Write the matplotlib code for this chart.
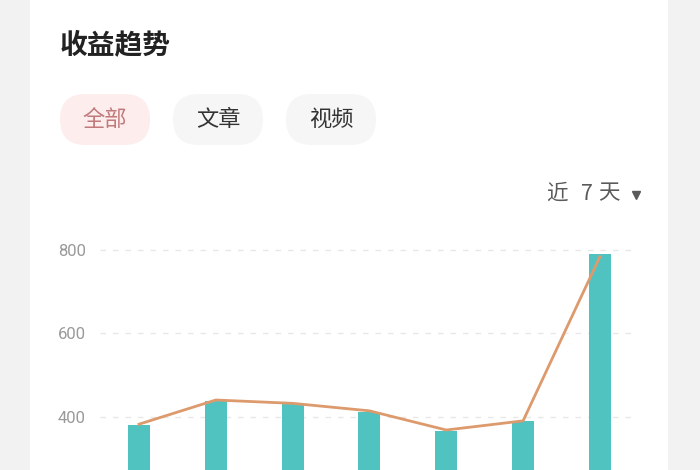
import matplotlib
matplotlib.use("Agg")
import matplotlib.pyplot as plt
from matplotlib.patches import Rectangle, FancyBboxPatch

# ---- data ----
days = [1, 2, 3, 4, 5, 6, 7]
bar_values = [380, 438, 430, 412, 366, 390, 790]
line_values = [382, 440, 432, 414, 368, 390, 784]
y_ticks = [400, 600, 800]
title = "收益趋势"
tabs = ["全部", "文章", "视频"]
period_parts = ["近", "7", "天"]

CJK = ['Noto Sans CJK SC', 'DejaVu Sans']
W, H = 700, 470
fig = plt.figure(figsize=(W / 100, H / 100), dpi=100)
fig.patch.set_facecolor('#f2f2f2')

# background / overlay axes in pixel coordinates
bg = fig.add_axes([0, 0, 1, 1], zorder=0)
bg.set_xlim(0, W)
bg.set_ylim(H, 0)
bg.axis('off')
bg.add_patch(Rectangle((30, -20), 638, H + 40, facecolor='white', edgecolor='none'))

bg.text(60, 45, title, fontsize=20, fontweight='bold', color='#222222',
        family=CJK, ha='left', va='center')

pill_x = [60, 173, 286]
pill_w = 90
for i, (lab, px) in enumerate(zip(tabs, pill_x)):
    active = i == 0
    bg.add_patch(FancyBboxPatch((px, 94), pill_w, 51,
                                boxstyle="round,pad=0,rounding_size=25.5",
                                facecolor='#fdeded' if active else '#f6f6f6',
                                edgecolor='none'))
    bg.text(px + pill_w / 2, 119.5, lab, fontsize=16,
            color='#c07a7b' if active else '#333333',
            family=CJK, ha='center', va='center')

part_x = [556.5, 587, 609]
for part, px in zip(period_parts, part_x):
    bg.text(px, 193.5, part, fontsize=15.5, color='#5a5a5a', family=CJK,
            ha='center', va='center')
bg.plot([636], [195], marker='v', markersize=5.5, color='#5a5a5a')

# chart axes
y_lo, y_hi = 0, 820
px_per = 83.33 / 200
top_px = 250 - (y_hi - 800) * px_per
bot_px = 416.7 + 400 * px_per
ax = fig.add_axes([100 / W, (H - bot_px) / H, 536 / W, (bot_px - top_px) / H], zorder=1)
ax.patch.set_alpha(0)
x = list(range(len(days)))
ax.bar(x, bar_values, width=0.286, color='#50c3c1', zorder=2)
ax.plot(x, line_values, color='#dd9a6c', linewidth=2, zorder=3,
        solid_joinstyle='round')
ax.set_xlim(-0.508, 6.47)
ax.set_ylim(y_lo, y_hi)
ax.set_yticks(y_ticks)
for t in y_ticks:
    ax.axhline(t, color='#e8e8e8', linewidth=1, linestyle=(0, (4, 5)), zorder=1)
ax.tick_params(axis='y', length=0, pad=10, labelsize=12, labelcolor='#9a9a9a')
for lab in ax.get_yticklabels():
    lab.set_family('Roboto')
ax.set_xticks([])
for s in ax.spines.values():
    s.set_visible(False)

fig.savefig('out.png', dpi=100, facecolor=fig.get_facecolor())
